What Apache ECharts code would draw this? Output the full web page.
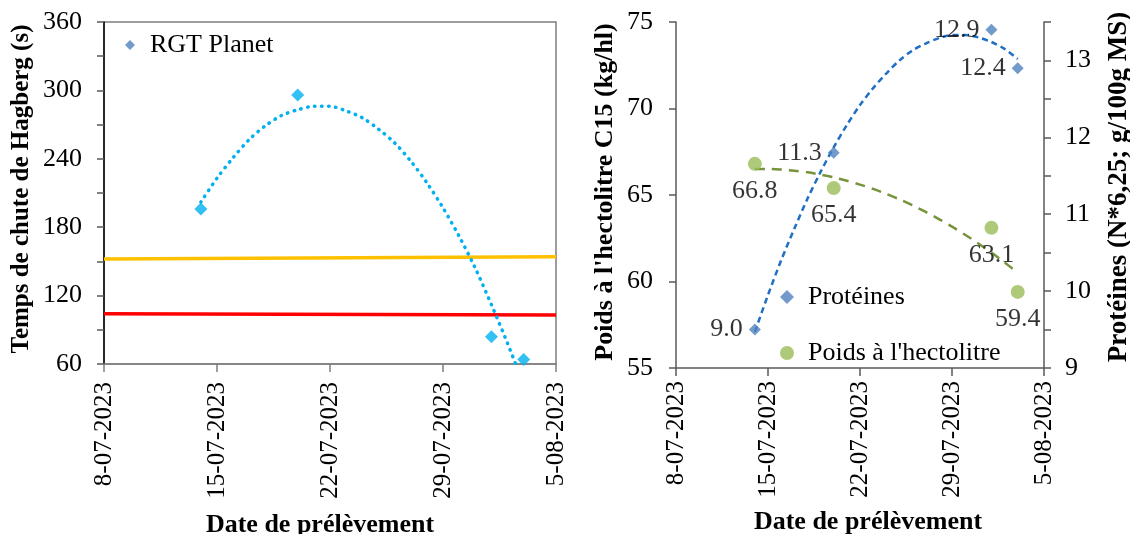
<!DOCTYPE html>
<html>
<head>
<meta charset="utf-8">
<script src="https://cdn.jsdelivr.net/npm/echarts@6/dist/echarts.min.js"></script>
<style>
  html, body { margin: 0; padding: 0; background: #fff; }
  #chart { width: 1130px; height: 534px; }
</style>
</head>
<body>
<div id="chart"></div>
<script>
// Reference date for the time scale (first tick of both x axes)
const startDate = '2023-07-08';
const xTickLabels = ['8-07-2023', '15-07-2023', '22-07-2023', '29-07-2023', '5-08-2023'];

// Sampling dates
const sampleDates = ['2023-07-14', '2023-07-20', '2023-08-01', '2023-08-03'];

// Hagberg falling number (s), RGT Planet
const hagberg = [196, 296, 84, 64];

// Polynomial trend curves, one value per day
const hagbergTrendDates = ['2023-07-14', '2023-07-15', '2023-07-16', '2023-07-17', '2023-07-18', '2023-07-19',
  '2023-07-20', '2023-07-21', '2023-07-22', '2023-07-23', '2023-07-24', '2023-07-25', '2023-07-26',
  '2023-07-27', '2023-07-28', '2023-07-29', '2023-07-30', '2023-07-31', '2023-08-01', '2023-08-02',
  '2023-08-02 12:00'];
const hagbergTrend = [202, 223, 241, 257, 269, 278, 283, 286, 286, 282, 276, 266, 254, 238, 219, 197,
  172, 144, 112, 78, 60];

// Threshold lines (s)
const thresholdDates = ['2023-07-08', '2023-08-05'];
const thresholdHigh = [152, 154];
const thresholdLow = [104, 103];

// Protein content and test weight
const proteines = [9.0, 11.3, 12.9, 12.4];
const poidsHl = [66.8, 65.4, 63.1, 59.4];
const trendDates = ['2023-07-14', '2023-07-15', '2023-07-16', '2023-07-17', '2023-07-18', '2023-07-19',
  '2023-07-20', '2023-07-21', '2023-07-22', '2023-07-23', '2023-07-24', '2023-07-25', '2023-07-26',
  '2023-07-27', '2023-07-28', '2023-07-29', '2023-07-30', '2023-07-31', '2023-08-01', '2023-08-02',
  '2023-08-03'];
const proteinesTrend = [8.97, 9.45, 9.90, 10.31, 10.70, 11.05, 11.37, 11.66, 11.92, 12.14, 12.33, 12.50,
  12.63, 12.72, 12.79, 12.83, 12.83, 12.80, 12.74, 12.65, 12.52];
const poidsTrend = [66.51, 66.51, 66.47, 66.40, 66.31, 66.18, 66.02, 65.82, 65.60, 65.35, 65.06, 64.75,
  64.40, 64.02, 63.61, 63.17, 62.70, 62.20, 61.67, 61.10, 60.51];

// Days elapsed since startDate
function dayOffset(s) {
  const [d, t = '00:00'] = s.split(' ');
  const [y, m, dd] = d.split('-').map(Number);
  const [h, mi] = t.split(':').map(Number);
  const [y0, m0, d0] = startDate.split('-').map(Number);
  return (Date.UTC(y, m - 1, dd, h, mi) - Date.UTC(y0, m0 - 1, d0)) / 864e5;
}
const pairs = (dates, vals) => dates.map((d, i) => [dayOffset(d), vals[i]]);

const FONT = 'Liberation Serif';
const txt = { fontFamily: FONT, fontSize: 26, color: '#000' };
const rotTxt = { fontFamily: FONT, fontSize: 25, color: '#000' };
const titleTxt = { fontFamily: FONT, fontSize: 26, fontWeight: 'bold', color: '#000' };

function dateAxis(gridIndex, lineColor, labelMargin, nameGap, namePadding) {
  return {
    type: 'value', gridIndex, min: 0, max: 28, interval: 7,
    axisLine: { show: true, onZero: false, lineStyle: { color: lineColor, width: 1.5 } },
    axisTick: { show: true, inside: false, length: 8, lineStyle: { color: lineColor, width: 1.5 } },
    axisLabel: Object.assign({ rotate: 90, margin: labelMargin,
      formatter: v => xTickLabels[Math.round(v / 7)] || '' }, rotTxt),
    splitLine: { show: false },
    name: 'Date de prélèvement', nameLocation: 'middle', nameGap,
    nameTextStyle: Object.assign({}, titleTxt, { padding: namePadding }), nameMoveOverlap: false
  };
}

const option = {
  animation: false,
  backgroundColor: '#fff',
  grid: [
    { left: 104, top: 22, width: 452, height: 342, show: true, borderColor: '#7f7f7f', borderWidth: 1.5,
      backgroundColor: 'transparent', containLabel: false, outerBoundsMode: 'none' },
    { left: 676, top: 22, width: 368, height: 346, containLabel: false, outerBoundsMode: 'none' }
  ],
  xAxis: [
    dateAxis(0, '#7f7f7f', 18, 148, [0, 20, 0, 0]),
    dateAxis(1, '#595959', 13, 141, [0, 0, 0, 16])
  ],
  yAxis: [
    {
      type: 'value', gridIndex: 0, min: 60, max: 360, interval: 60,
      axisLine: { show: true, onZero: false, lineStyle: { color: '#000', width: 1.5 } },
      axisTick: { show: true, length: 7, lineStyle: { color: '#595959', width: 1.5 } },
      minorTick: { show: true, splitNumber: 2, length: 7, lineStyle: { color: '#595959', width: 1.5 } },
      axisLabel: Object.assign({ margin: 22 }, txt),
      splitLine: { show: false }, minorSplitLine: { show: false },
      name: 'Temps de chute de Hagberg (s)', nameLocation: 'middle', nameGap: 70, nameRotate: 90,
      nameTextStyle: Object.assign({}, titleTxt, { fontSize: 25, padding: [0, 0, 0, 8] }), nameMoveOverlap: false
    },
    {
      type: 'value', gridIndex: 1, min: 55, max: 75, interval: 5,
      axisLine: { show: true, onZero: false, lineStyle: { color: '#595959', width: 1.5 } },
      axisTick: { show: true, length: 7, lineStyle: { color: '#595959', width: 1.5 } },
      axisLabel: Object.assign({ margin: 23 }, txt),
      splitLine: { show: false },
      name: "Poids à l'hectolitre C15 (kg/hl)", nameLocation: 'middle', nameGap: 58, nameRotate: 90,
      nameTextStyle: Object.assign({}, titleTxt, { padding: [0, 0, 0, 6] }), nameMoveOverlap: false
    },
    {
      type: 'value', gridIndex: 1, position: 'right', min: 8.5, max: 13, interval: 0.5,
      axisLine: { show: true, onZero: false, lineStyle: { color: '#595959', width: 1.5 } },
      axisTick: { show: true, length: 7, lineStyle: { color: '#595959', width: 1.5 } },
      axisLabel: Object.assign({ margin: 21,
        // whole-number labels every other tick, rounded to 0 decimals
        formatter: v => (Math.abs(((v - 8.5) % 1)) < 1e-6 ? String(Math.round(v)) : '') }, txt),
      splitLine: { show: false },
      name: 'Protéines (N*6,25; g/100g MS)', nameLocation: 'middle', nameGap: 62, nameRotate: 90,
      nameTextStyle: Object.assign({}, titleTxt, { fontSize: 27, padding: [0, 0, 0, 16] }), nameMoveOverlap: false
    }
  ],
  legend: [
    {
      left: 125, top: 32, padding: 0, itemWidth: 10, itemHeight: 10,
      data: [{ name: 'RGT Planet', icon: 'diamond', itemStyle: { color: '#4F81BD' } }],
      textStyle: { fontFamily: FONT, fontSize: 26, color: '#000', padding: [0, 0, 0, 10] }
    },
    {
      left: 780, top: 284, padding: 0, orient: 'vertical', itemGap: 30, itemWidth: 14, itemHeight: 14,
      data: [{ name: 'Protéines', icon: 'diamond' }, { name: "Poids à l'hectolitre", icon: 'circle' }],
      textStyle: { fontFamily: FONT, fontSize: 26, color: '#000', padding: [0, 0, 0, 9] }
    }
  ],
  series: [
    {
      name: 'Tendance Hagberg', type: 'line', xAxisIndex: 0, yAxisIndex: 0, smooth: 0.3,
      showSymbol: false, symbol: 'none', silent: true, z: 2,
      data: pairs(hagbergTrendDates, hagbergTrend),
      lineStyle: { color: '#00B0F0', width: 3.5, type: [0.5, 6.5], cap: 'round' }
    },
    {
      name: 'Seuil haut', type: 'line', xAxisIndex: 0, yAxisIndex: 0, symbol: 'none', silent: true, z: 1,
      data: pairs(thresholdDates, thresholdHigh),
      lineStyle: { color: '#FFC000', width: 3.5 }
    },
    {
      name: 'Seuil bas', type: 'line', xAxisIndex: 0, yAxisIndex: 0, symbol: 'none', silent: true, z: 1,
      data: pairs(thresholdDates, thresholdLow),
      lineStyle: { color: '#FF0000', width: 3.5 }
    },
    {
      name: 'RGT Planet', type: 'scatter', xAxisIndex: 0, yAxisIndex: 0, z: 3,
      symbol: 'diamond', symbolSize: 13, itemStyle: { color: '#00B0F0' },
      data: pairs(sampleDates, hagberg)
    },
    {
      name: 'Tendance poids', type: 'line', xAxisIndex: 1, yAxisIndex: 1, smooth: 0.3,
      showSymbol: false, symbol: 'none', silent: true, z: 2,
      data: pairs(trendDates, poidsTrend),
      lineStyle: { color: '#77933C', width: 2.5, type: [10, 7] }
    },
    {
      name: 'Tendance protéines', type: 'line', xAxisIndex: 1, yAxisIndex: 2, smooth: 0.3,
      showSymbol: false, symbol: 'none', silent: true, z: 2,
      data: pairs(trendDates, proteinesTrend),
      lineStyle: { color: '#1F6FC5', width: 2.5, type: [6, 4] }
    },
    {
      name: 'Protéines', type: 'scatter', xAxisIndex: 1, yAxisIndex: 2, z: 3,
      symbol: 'diamond', symbolSize: 12, itemStyle: { color: '#4F81BD' },
      data: pairs(sampleDates, proteines),
      label: Object.assign({ show: true, position: 'left', distance: 6,
        formatter: p => p.value[1].toFixed(1) }, txt)
    },
    {
      name: "Poids à l'hectolitre", type: 'scatter', xAxisIndex: 1, yAxisIndex: 1, z: 3,
      symbol: 'circle', symbolSize: 14, itemStyle: { color: '#9BBB59' },
      data: pairs(sampleDates, poidsHl),
      label: Object.assign({ show: true, position: 'bottom', distance: 7,
        formatter: p => p.value[1].toFixed(1) }, txt)
    }
  ]
};

const chart = echarts.init(document.getElementById('chart'), null, { renderer: 'canvas' });
chart.setOption(option);
</script>
</body>
</html>
